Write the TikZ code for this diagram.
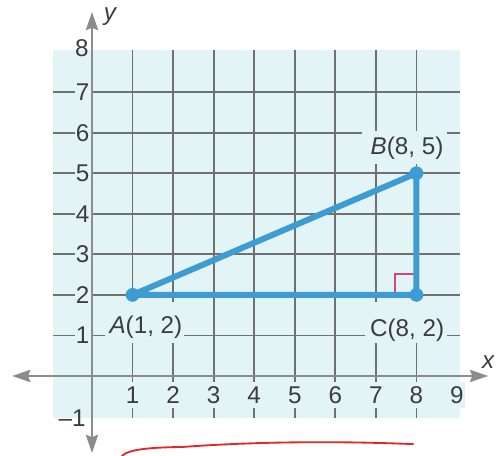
\documentclass[tikz,border=0pt]{standalone}
\usepackage{fontspec}
\setmainfont{Liberation Sans}
\usetikzlibrary{arrows.meta}
\definecolor{bgc}{HTML}{E2F4F6}
\definecolor{gridc}{HTML}{707070}
\definecolor{axisc}{HTML}{8C8C8C}
\definecolor{txtc}{HTML}{3C3C3C}
\definecolor{triblue}{HTML}{3D9DD2}
\definecolor{rtpink}{HTML}{D8467E}
\definecolor{inkred}{HTML}{E0282A}
\begin{document}
\begin{tikzpicture}[x=1cm,y=1cm,
  gridline/.style={gridc, line width=1.2pt},
  axisline/.style={axisc, line width=1.8pt, {Stealth[length=0.45cm,width=0.3cm,inset=0.06cm]}-{Stealth[length=0.45cm,width=0.3cm,inset=0.06cm]}},
  ticklab/.style={font=\fontsize{17}{20}\selectfont, text=txtc, fill=bgc, inner xsep=1pt, inner ysep=3pt},
  ptlab/.style={font=\fontsize{17}{20}\selectfont, text=txtc, inner sep=0pt},
  dot/.style={circle, fill=triblue, inner sep=0pt, minimum size=0.34cm},
  side/.style={triblue, line width=4.2pt, line join=round},
  maskbox/.style={fill=bgc}]
\useasboundingbox (-2.269,-1.973) rectangle (10.012,9.272);
% shaded grid area
\fill[bgc] (-0.96,-1.04) rectangle (9.07,8.04);
\foreach \i in {1,...,8} \draw[gridline] (\i,-1.04) -- (\i,8.04);
\foreach \j in {1,...,7} \draw[gridline] (-0.96,\j) -- (9.07,\j);
% label masks
\fill[maskbox] (0.32,0.82) rectangle (2.28,1.82);
\fill[maskbox] (6.73,0.82) rectangle (8.75,1.82);
\fill[maskbox] (6.66,5.22) rectangle (8.75,6.05);
% tick labels
\foreach \j in {1,...,7} \node[ticklab] (ylab\j) at (-0.23,\j) {\j};
\foreach \i in {1,...,9} \node[ticklab] (xlab\i) at (\i,-0.47) {\i};
\node[ptlab] (ylab8) at (-0.25,8.08) {8};
\node[ptlab] (ylabm1) at (-0.49,-1.04) {–1};
% axes
\coordinate (xl) at (-1.97,0);
\coordinate (xr) at (9.77,0);
\coordinate (yb) at (0,-1.90);
\coordinate (yt) at (0,8.98);
\draw[axisline] (xl) -- (xr);
\draw[axisline] (yb) -- (yt);
\node[ptlab, font=\fontsize{17}{20}\selectfont\itshape] (xname) at (9.77,0.34) {x};
\node[ptlab, font=\fontsize{17}{20}\selectfont\itshape] (yname) at (0.44,8.85) {y};
% triangle
\coordinate (pA) at (1,2);
\coordinate (pB) at (8,5);
\coordinate (pC) at (8,2);
\draw[rtpink, line width=1.3pt] ([xshift=-0.52cm]pC) -- ++(0,0.52) -- ++(0.52,0);
\draw[side] (pA) -- (pB) -- (pC) -- cycle;
\node[dot] (A) at (pA) {};
\node[dot] (B) at (pB) {};
\node[dot] (C) at (pC) {};
% point labels
\node[ptlab] (Alab) at (1.33,1.20) {\textit{A}(1, 2)};
\node[ptlab] (Blab) at (7.77,5.62) {\textit{B}(8, 5)};
\node[ptlab] (Clab) at (7.77,1.13) {C(8, 2)};
% red handwriting stroke
\draw[inkred, line width=1.3pt, line cap=round] (0.74,-1.97) .. controls (0.9,-1.80) and (1.5,-1.76) .. (2.24,-1.75) .. controls (4,-1.62) and (6,-1.60) .. (7.92,-1.68);
\end{tikzpicture}
\end{document}
